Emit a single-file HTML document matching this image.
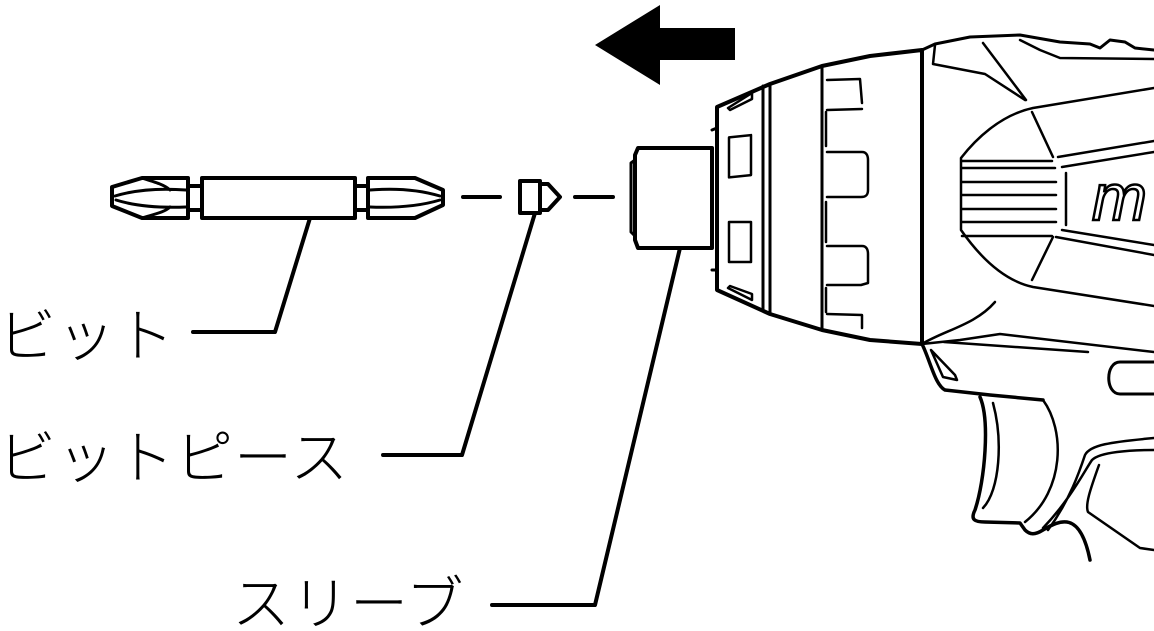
<!DOCTYPE html>
<html><head><meta charset="utf-8"><style>
html,body{margin:0;padding:0;background:#fff;}
svg{display:block}
text{font-family:"Liberation Sans","Noto Sans CJK JP",sans-serif;font-weight:300;fill:#000}
</style></head><body>
<svg width="1154" height="631" viewBox="0 0 1154 631" xmlns="http://www.w3.org/2000/svg">
<g fill="none" stroke="#000" stroke-width="4" stroke-linejoin="round" stroke-linecap="round">
<path d="M112,187 L142,178 L188,178 L188,218 L142,218 L112,206 Z" fill="#fff"/>
<path d="M115,196 C135,190 160,188 186,190 M116,200 C135,206 160,208 186,207 M142,178 C155,182 165,185 170,190 M142,218 C155,214 165,212 170,207" stroke-width="3"/>
<path d="M188,186 L202,186 M188,210 L202,210"/>
<rect x="202" y="178" width="153" height="40" fill="#fff"/>
<path d="M355,186 L368,186 M355,210 L368,210"/>
<path d="M368,178 L415,178 L443,190 L443,205 L415,218 L368,218 Z" fill="#fff"/>
<path d="M370,190 C395,188 420,190 440,196 M370,207 C395,208 420,206 440,200" stroke-width="3"/>
<path d="M463,197 L500,197 M575,197 L613,197"/>
<rect x="520" y="181" width="20" height="32" fill="#fff"/>
<path d="M540,184 L548,184 L560,197 L548,210 L540,210"/>
<path d="M638,148 L712,148 L712,248 L638,248 L635,240 L635,155 Z" fill="#fff"/>
<path d="M635,160 L631,163 L631,232 L635,236" stroke-width="3"/>
<path d="M310,218 L275,332 L193,332"/>
<path d="M535,213 L462,455 L383,455"/>
<path d="M680,248 L595,605 L492,605"/>
<path d="M717,107 L770,84 L822,66 L870,56 L922,50 L922,344 L870,340 L822,330 L770,314 L717,290 Z" fill="#fff"/>
<path d="M712,130 L717,128 L717,270 L712,270" stroke-width="3"/>
<path d="M763,86 L763,310 M770,84 L770,314 M822,66 L822,330" stroke-width="3"/>
<path d="M728,108 L752,93 L752,99 L730,110 Z M728,288 L752,300 L752,294 L730,286 Z" stroke-width="2.5"/>
<rect x="729" y="136" width="22" height="40" stroke-width="2.5" transform="skewY(-6) translate(0,78)"/>
<rect x="729" y="222" width="22" height="40" stroke-width="2.5"/>
<path d="M827,80 L860,79 L862,103 M827,110 L862,109 M827,152 L862,152 C866,152 868,155 868,160 L868,190 C868,195 866,197 861,197 L827,197 M827,246 L862,246 C866,246 868,249 868,254 L868,283 L861,285 L827,285 M827,314 L862,315 L862,328" stroke-width="2.5"/>
<path d="M826,112 L826,146 M826,202 L826,242 M826,288 L826,312" stroke-width="2.5"/>
<path d="M922,50 L935,44 L970,37 L1020,35 L1060,42 L1090,44 L1100,48 L1110,40 L1125,42 L1135,48 L1154,50" stroke-width="3"/>
<path d="M1020,40 L1040,50 L1060,58 L1154,59" stroke-width="2.5"/>
<path d="M935,45 L933,64 L985,74 L1025,100" stroke-width="2.5"/>
<path d="M983,43 L1026,100" stroke-width="2.5"/>
<path d="M1033,108 L1154,88 M1033,108 C1000,115 975,140 961,158 L961,230 C975,250 1000,280 1033,287 L1154,306" stroke-width="2.5"/>
<path d="M1032,112 L1053,157 M1053,237 L1032,280" stroke-width="2.5"/>
<path d="M1058,157 L1154,141 M1062,167 L1154,152 M1066,173 L1066,225 M1062,230 L1154,245 M1056,237 L1154,255" stroke-width="2.5"/>
<path d="M962,161 L1052,161 M962,168 L1055,168 M962,182 L1056,182 M962,195 L1056,195 M962,209 L1056,209 M962,222 L1056,222 M962,236 L1052,236" stroke-width="2.5"/>
<path d="M922,344 C945,330 975,325 995,302" stroke-width="2.5"/>
<path d="M922,344 L960,340 L1000,334 L1154,352" stroke-width="2.5"/>
<path d="M944,342 L1088,352" stroke-width="2.5"/>
<path d="M922,344 C930,360 935,385 945,390 L990,395 L1043,400" stroke-width="3.5"/>
<path d="M931,350 L955,375 L957,380 L943,377 Z" stroke-width="2.5"/>
<path d="M1154,362 L1120,362 C1105,362 1105,394 1120,394 L1154,394" stroke-width="3"/>
<path d="M980,397 C990,420 985,480 975,510 C970,520 975,522 985,522 L1020,523 L1025,530 C1030,535 1035,535 1043,530 C1060,520 1080,510 1090,560" stroke-width="3.5"/>
<path d="M993,403 C1003,440 1000,490 983,508" stroke-width="2.5"/>
<path d="M1043,400 C1065,430 1065,490 1025,522" stroke-width="2.5"/>
<path d="M1048,530 C1070,500 1080,470 1085,455 C1090,445 1110,442 1154,438 M1043,528 C1070,500 1085,470 1092,460 C1100,452 1130,450 1154,450" stroke-width="2.5"/>
<path d="M1099,465 C1090,490 1085,505 1088,512 L1140,548 L1154,550" stroke-width="2.5"/>
</g>
<text x="1092" y="220" font-size="66" font-style="italic" font-weight="700" stroke="#000" stroke-width="2.5" style="font-family:'Liberation Sans',sans-serif;fill:#fff">m</text>
<polygon points="595,45 660,5 660,28 735,28 735,60 660,60 660,85" fill="#000"/>
<text x="-2" y="356" font-size="58" letter-spacing="1">ビット</text>
<text x="-2" y="478" font-size="58" letter-spacing="1">ビットピース</text>
<text x="232" y="624" font-size="58" letter-spacing="1">スリーブ</text>
</svg>
</body></html>
